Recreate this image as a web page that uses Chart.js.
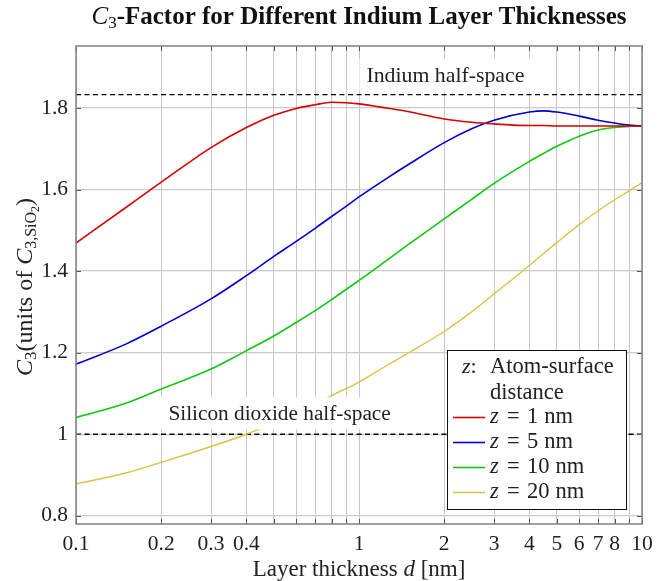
<!DOCTYPE html>
<html><head><meta charset="utf-8">
<script src="https://cdn.jsdelivr.net/npm/chart.js@4.4.1/dist/chart.umd.min.js"></script>
<style>html,body{margin:0;padding:0;background:#fff;}#wrap{width:667px;height:581px;}</style>
</head><body><div id="wrap"><canvas id="c" width="667" height="581"></canvas></div>
<script>
// ---- data ----
const thickness = [0.1,0.15,0.2,0.3,0.4,0.5,0.6,0.7,0.8,0.9,1,1.25,1.5,2,2.5,3,4,4.5,5,6,7,8,9,10];
const c3z1  = [1.469,1.556,1.618,1.703,1.752,1.782,1.799,1.808,1.814,1.813,1.810,1.800,1.791,1.773,1.765,1.761,1.757,1.757,1.756,1.756,1.756,1.756,1.756,1.756];
const c3z5  = [1.172,1.221,1.265,1.332,1.389,1.436,1.473,1.505,1.534,1.559,1.582,1.627,1.662,1.715,1.749,1.770,1.790,1.793,1.790,1.780,1.770,1.763,1.758,1.756];
const c3z10 = [1.041,1.076,1.111,1.160,1.205,1.241,1.274,1.303,1.330,1.355,1.377,1.426,1.466,1.528,1.576,1.615,1.669,1.689,1.706,1.731,1.746,1.752,1.755,1.756];
const c3z20 = [0.878,0.905,0.931,0.970,1.000,1.028,1.052,1.074,1.095,1.112,1.128,1.168,1.200,1.252,1.300,1.344,1.414,1.444,1.470,1.514,1.548,1.575,1.597,1.617];
const seriesNumbers = ['1','5','10','20'];
const seriesColors = ['#d80000','#0000d0','#10c810','#d8c448'];
const indiumHalfSpace = 1.833;
const sio2HalfSpace = 1.0;
const xTicks = [0.1,0.2,0.3,0.4,0.5,0.6,0.7,0.8,0.9,1,2,3,4,5,6,7,8,9,10];
const xTickLabels = ['0.1','0.2','0.3','0.4','','','','','','1','2','3','4','5','6','7','8','','10'];
const yTicks = [0.8,1.0,1.2,1.4,1.6,1.8];
const yTickLabels = ['0.8','1','1.2','1.4','1.6','1.8'];

const SERIF = '"Liberation Serif", serif';
const F = (st, sz) => (st ? st + ' ' : '') + sz + 'px ' + SERIF;
function richWidth(ctx, segs){let w=0;for(const s of segs){ctx.font=s.f;w+=ctx.measureText(s.t).width+(s.sp||0);}return w;}
function drawRich(ctx, segs, x, y, align){
  const w = richWidth(ctx, segs);
  let cx = align==='center' ? x-w/2 : (align==='right' ? x-w : x);
  ctx.textAlign='left'; ctx.textBaseline='alphabetic';
  for(const s of segs){ctx.font=s.f;ctx.fillText(s.t,cx,y+(s.dy||0));cx+=ctx.measureText(s.t).width+(s.sp||0);}
}

const curves = [c3z1,c3z5,c3z10,c3z20].map((arr,i)=>({
  label: 'z = '+seriesNumbers[i]+' nm',
  data: thickness.map((t,j)=>({x:t,y:arr[j]})),
  borderColor: seriesColors[i], backgroundColor: seriesColors[i],
  borderWidth: i===3?1.4:1.6, pointRadius:0, cubicInterpolationMode:'monotone', fill:false
}));
const refs = [indiumHalfSpace, sio2HalfSpace].map(v=>({
  label:'ref',
  data:[{x:0.1,y:v},{x:10,y:v}],
  borderColor:'#000', borderWidth:1.3, borderDash:[5,3.5], pointRadius:0, fill:false
}));

const decor = {
  id:'decor',
  afterDatasetsDraw(chart){
    const ctx=chart.ctx, a=chart.chartArea, xs=chart.scales.x, ys=chart.scales.y;
    ctx.save();
    // Indium label
    const ix = xs.getPixelForValue(2.02), iy = ys.getPixelForValue(indiumHalfSpace);
    ctx.fillStyle='#fff'; ctx.fillRect(ix-86, iy-36, 172, 33);
    ctx.fillStyle='#222'; ctx.font=F('',21.8); ctx.textAlign='center'; ctx.textBaseline='alphabetic';
    ctx.fillText('Indium half-space', ix, iy-13);
    // SiO2 label
    const sx = xs.getPixelForValue(0.524), sy = ys.getPixelForValue(sio2HalfSpace);
    ctx.fillStyle='#fff'; ctx.fillRect(sx-120, sy-37, 241, 32);
    ctx.fillStyle='#222'; ctx.font=F('',21.3); ctx.fillText('Silicon dioxide half-space', sx, sy-14);
    // legend
    const L=447, T=350, W=179, H=159;
    ctx.fillStyle='#fff'; ctx.fillRect(L,T,W,H);
    ctx.strokeStyle='#111'; ctx.lineWidth=1; ctx.strokeRect(L+0.5,T+0.5,W,H);
    ctx.fillStyle='#222';
    drawRich(ctx,[{t:'z',f:F('italic',22)},{t:':',f:F('',22)}],L+15,T+23,'left');
    ctx.font=F('',22.5); ctx.textAlign='left'; ctx.fillText('Atom-surface',L+43,T+23);
    ctx.fillText('distance',L+43,T+49);
    for(let i=0;i<4;i++){
      const by=T+73+i*25;
      ctx.strokeStyle=seriesColors[i]; ctx.lineWidth=1.6; ctx.setLineDash([]);
      ctx.beginPath(); ctx.moveTo(L+6,by-5.5); ctx.lineTo(L+38,by-5.5); ctx.stroke();
      ctx.fillStyle='#222'; ctx.textAlign='left';
      ctx.font=F('italic',22.5); ctx.fillText('z',L+43,by);
      ctx.font=F('',22.5); ctx.fillText('=',L+60,by);
      ctx.fillText(seriesNumbers[i],L+80,by);
      const nw=ctx.measureText(seriesNumbers[i]).width;
      ctx.fillText('nm',L+80+nw+6,by);
    }
    // inner ticks and frame
    ctx.strokeStyle='#555'; ctx.lineWidth=1;
    for(const t of xs.ticks){const p=Math.round(xs.getPixelForValue(t.value))+0.5;
      ctx.beginPath();ctx.moveTo(p,a.bottom);ctx.lineTo(p,a.bottom-5);ctx.moveTo(p,a.top);ctx.lineTo(p,a.top+5);ctx.stroke();}
    for(const t of ys.ticks){const p=Math.round(ys.getPixelForValue(t.value))+0.5;
      ctx.beginPath();ctx.moveTo(a.left,p);ctx.lineTo(a.left+5,p);ctx.moveTo(a.right,p);ctx.lineTo(a.right-5,p);ctx.stroke();}
    ctx.strokeStyle='#808080'; ctx.lineWidth=1.5;
    ctx.strokeRect(a.left,a.top,a.right-a.left,a.bottom-a.top);
    ctx.restore();
  },
  afterDraw(chart){
    const ctx=chart.ctx, a=chart.chartArea;
    ctx.save(); ctx.fillStyle='#111';
    const cx=(a.left+a.right)/2;
    drawRich(ctx,[{t:'C',f:F('italic',25)},{t:'3',f:F('',17),dy:4},{t:'-Factor for Different Indium Layer Thicknesses',f:F('bold',25)}],cx,24,'center');
    ctx.fillStyle='#222';
    drawRich(ctx,[{t:'Layer thickness ',f:F('',23)},{t:'d',f:F('italic',23)},{t:' [nm]',f:F('',23)}],cx,576,'center');
    ctx.translate(32,287); ctx.rotate(-Math.PI/2);
    drawRich(ctx,[{t:'C',f:F('italic',24)},{t:'3',f:F('',17),dy:4},{t:'(units of ',f:F('',24)},{t:'C',f:F('italic',24)},{t:'3,SiO',f:F('',16),dy:4},{t:'2',f:F('',12),dy:7},{t:')',f:F('',24)}],0,0,'center');
    ctx.restore();
  }
};

new Chart(document.getElementById('c'),{
  type:'line',
  data:{datasets:[...curves,...refs]},
  options:{
    responsive:false, devicePixelRatio:1, animation:false,
    layout:{padding:{top:46,left:0,right:25,bottom:0}},
    plugins:{legend:{display:false},title:{display:false},tooltip:{enabled:false}},
    scales:{
      x:{type:'logarithmic',min:0.1,max:10,
        afterBuildTicks:s=>{s.ticks=xTicks.map(v=>({value:v}));},
        afterFit:s=>{s.height=57;},
        ticks:{autoSkip:false,maxRotation:0,padding:7,color:'#222',font:{family:SERIF,size:21.5},
          callback:(v)=>{const i=xTicks.indexOf(v);return i>=0?xTickLabels[i]:'';}},
        grid:{color:'#c8c8c8',lineWidth:1,drawTicks:false},border:{display:false}},
      y:{type:'linear',min:0.78,max:1.952,
        afterBuildTicks:s=>{s.ticks=yTicks.map(v=>({value:v}));},
        afterFit:s=>{s.width=76;},
        ticks:{padding:8,color:'#222',font:{family:SERIF,size:21.5},
          callback:(v)=>{const i=yTicks.findIndex(t=>Math.abs(t-v)<1e-6);return i>=0?yTickLabels[i]:'';}},
        grid:{color:'#cbcbcb',lineWidth:1.3,drawTicks:false},border:{display:false}}
    }
  },
  plugins:[decor]
});
</script></body></html>
